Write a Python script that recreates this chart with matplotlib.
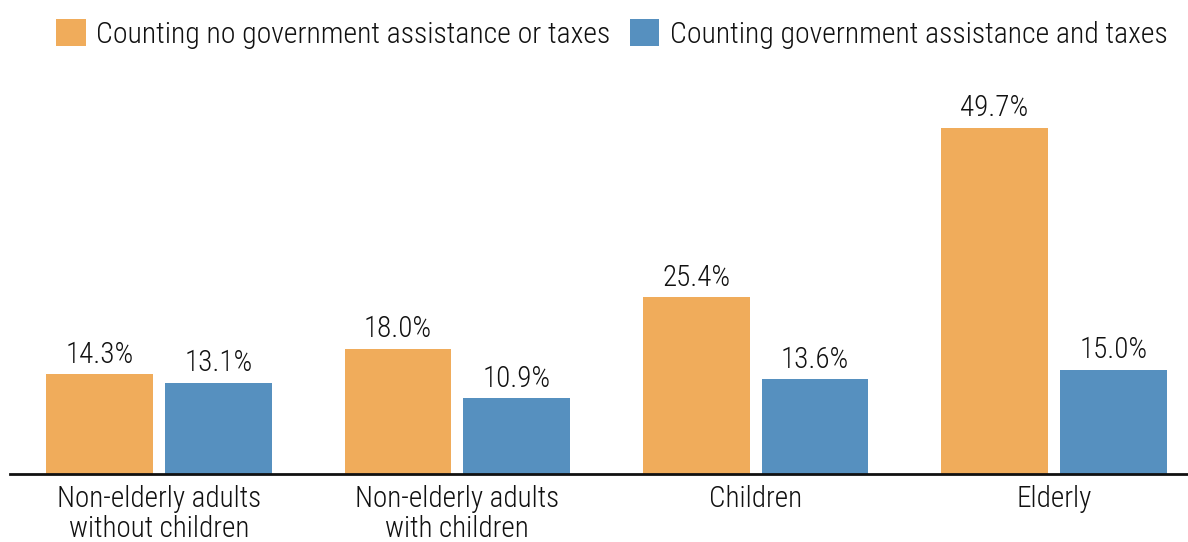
import numpy as np
import matplotlib.pyplot as plt
from matplotlib.patches import Patch

categories = ["Non-elderly adults\nwithout children", "Non-elderly adults\nwith children",
              "Children", "Elderly"]
no_assist = [14.3, 18.0, 25.4, 49.7]
with_assist = [13.1, 10.9, 13.6, 15.0]
series_names = ["Counting no government assistance or taxes",
                "Counting government assistance and taxes"]

orange = "#F0AC5B"
blue = "#5690BF"
txt = "#111111"

plt.rcParams['font.family'] = ['Roboto Condensed', 'Lato', 'DejaVu Sans']
plt.rcParams['font.weight'] = 'light'

W, H = 1188, 542
fig = plt.figure(figsize=(W / 100, H / 100), dpi=100)
ax = fig.add_axes([10 / W, 68 / H, 1178 / W, 383 / H])

x = np.arange(len(categories))
bw = 0.358
off = 0.199
b1 = ax.bar(x - off, no_assist, bw, color=orange)
b2 = ax.bar(x + off, with_assist, bw, color=blue)

for bars in (b1, b2):
    ax.bar_label(bars, labels=[f"{v:.1f}%" for v in bars.datavalues],
                 padding=4, fontsize=21, color=txt)

ax.set_xlim(-0.5, 3.45)
ax.set_ylim(0, 55)
ax.set_yticks([])
ax.set_xticks(x)
ax.set_xticklabels(categories, fontsize=21, color=txt, linespacing=1.1)
ax.tick_params(axis='x', length=0, pad=8)
for s in ['top', 'right', 'left']:
    ax.spines[s].set_visible(False)
ax.spines['bottom'].set_linewidth(2)
ax.spines['bottom'].set_color('#111111')

handles = [Patch(facecolor=orange), Patch(facecolor=blue)]
fig.legend(handles, series_names, loc='upper center', bbox_to_anchor=(0.515, 1.0),
           ncol=2, frameon=False, fontsize=21.4, handlelength=1.0, handleheight=1.0,
           handletextpad=0.35, columnspacing=0.65, labelcolor=txt,
           borderaxespad=0.25)

fig.savefig("out.png", dpi=100)
